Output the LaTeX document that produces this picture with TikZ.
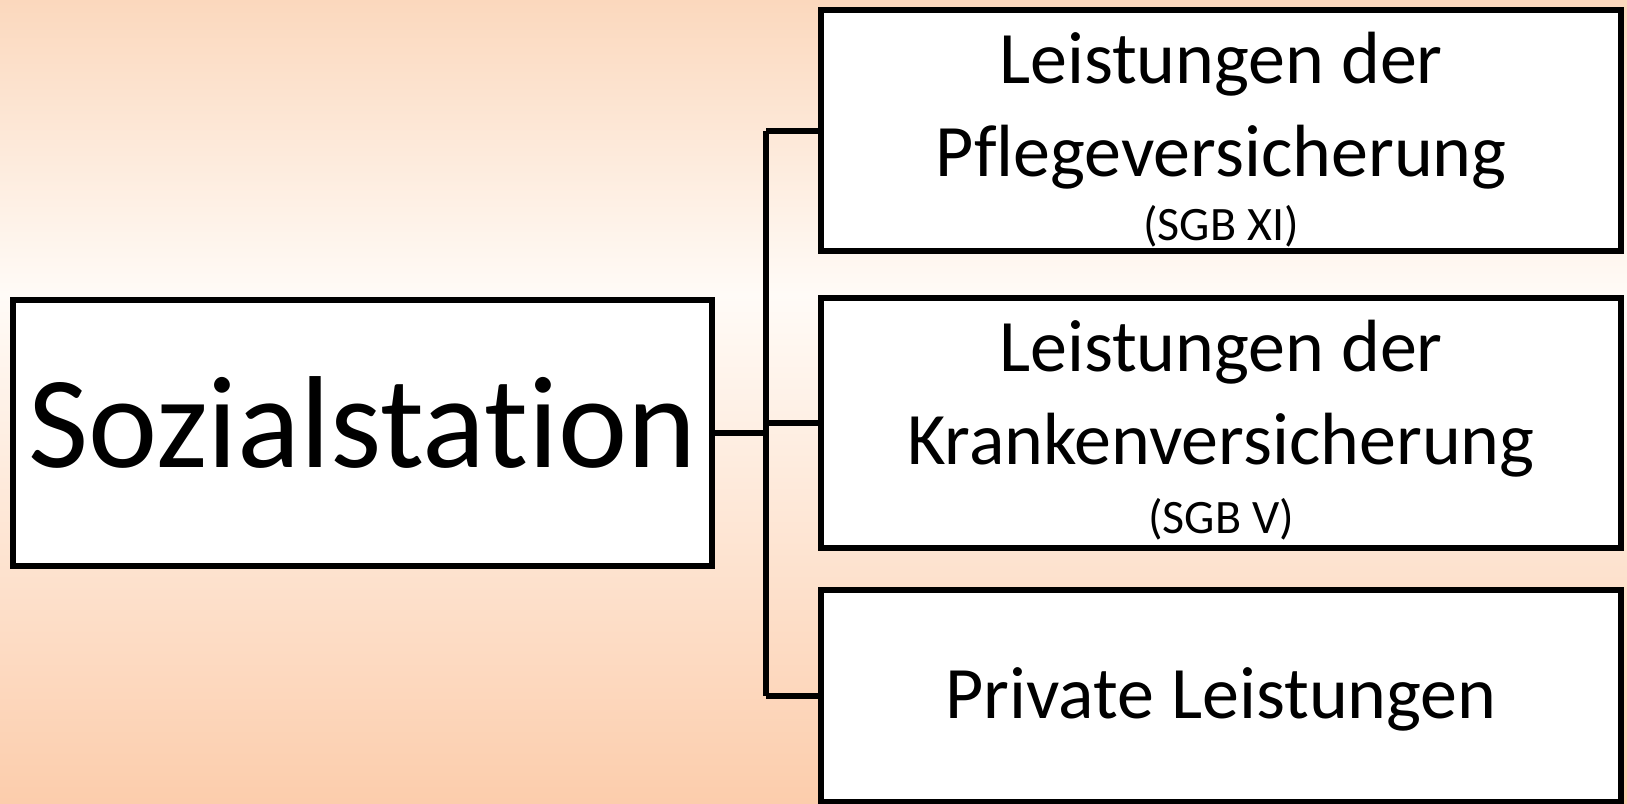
\documentclass[tikz,border=0pt]{standalone}
\usepackage{fontspec}
\setmainfont{Carlito}[Ligatures=NoCommon]
\usetikzlibrary{positioning}

\definecolor{peachtop}{RGB}{251,216,189}
\definecolor{peachmid}{RGB}{255,251,247}
\definecolor{peachbot}{RGB}{252,205,172}

\begin{document}
\begin{tikzpicture}[
    x=1pt, y=-1pt,
    root/.style={rectangle, draw=black, line width=6pt, fill=white, outer sep=0pt, inner sep=0pt, minimum width=699pt, minimum height=266pt, text height=68pt, text depth=0pt, font=\fontsize{131}{140}\selectfont},
    leaf/.style={rectangle, draw=black, line width=6pt, fill=white, outer sep=0pt, inner sep=0pt, minimum width=800pt, align=center, text depth=0pt, font=\fontsize{74}{93}\selectfont},
    link/.style={line width=6pt, draw=black, line join=miter},
]
    \clip (0,0) rectangle (1627,803);
    % background
    \shade[top color=peachtop, bottom color=peachmid] (0,0) rectangle (1627,295);
    \shade[top color=peachmid, bottom color=peachbot] (0,295) rectangle (1627,803);

    \node[root] (sozial) at (362.5,433) {Sozialstation};

    \node[leaf, minimum height=241pt, text height=220pt] (pflege) at (1221,130.5) {Leistungen der\\Pflegeversicherung\\[-29pt]\fontsize{48}{66}\selectfont (SGB XI)};
    \node[leaf, minimum height=250pt, text height=220pt] (kranken) at (1221,423) {Leistungen der\\Krankenversicherung\\[-24pt]\fontsize{48}{66}\selectfont (SGB V)};
    \node[leaf, minimum height=212pt, text height=44pt] (privat) at (1221,696) {Private Leistungen};

    \coordinate (fork) at (766,433);

    \draw[link] (sozial.east) -- (fork);
    \draw[link] (fork |- pflege.west) -- (fork |- privat.west);
    \draw[link] (fork |- pflege.west) -- (pflege.west);
    \draw[link] (fork |- kranken.west) -- (kranken.west);
    \draw[link] (fork |- privat.west) -- (privat.west);

\end{tikzpicture}
\end{document}
